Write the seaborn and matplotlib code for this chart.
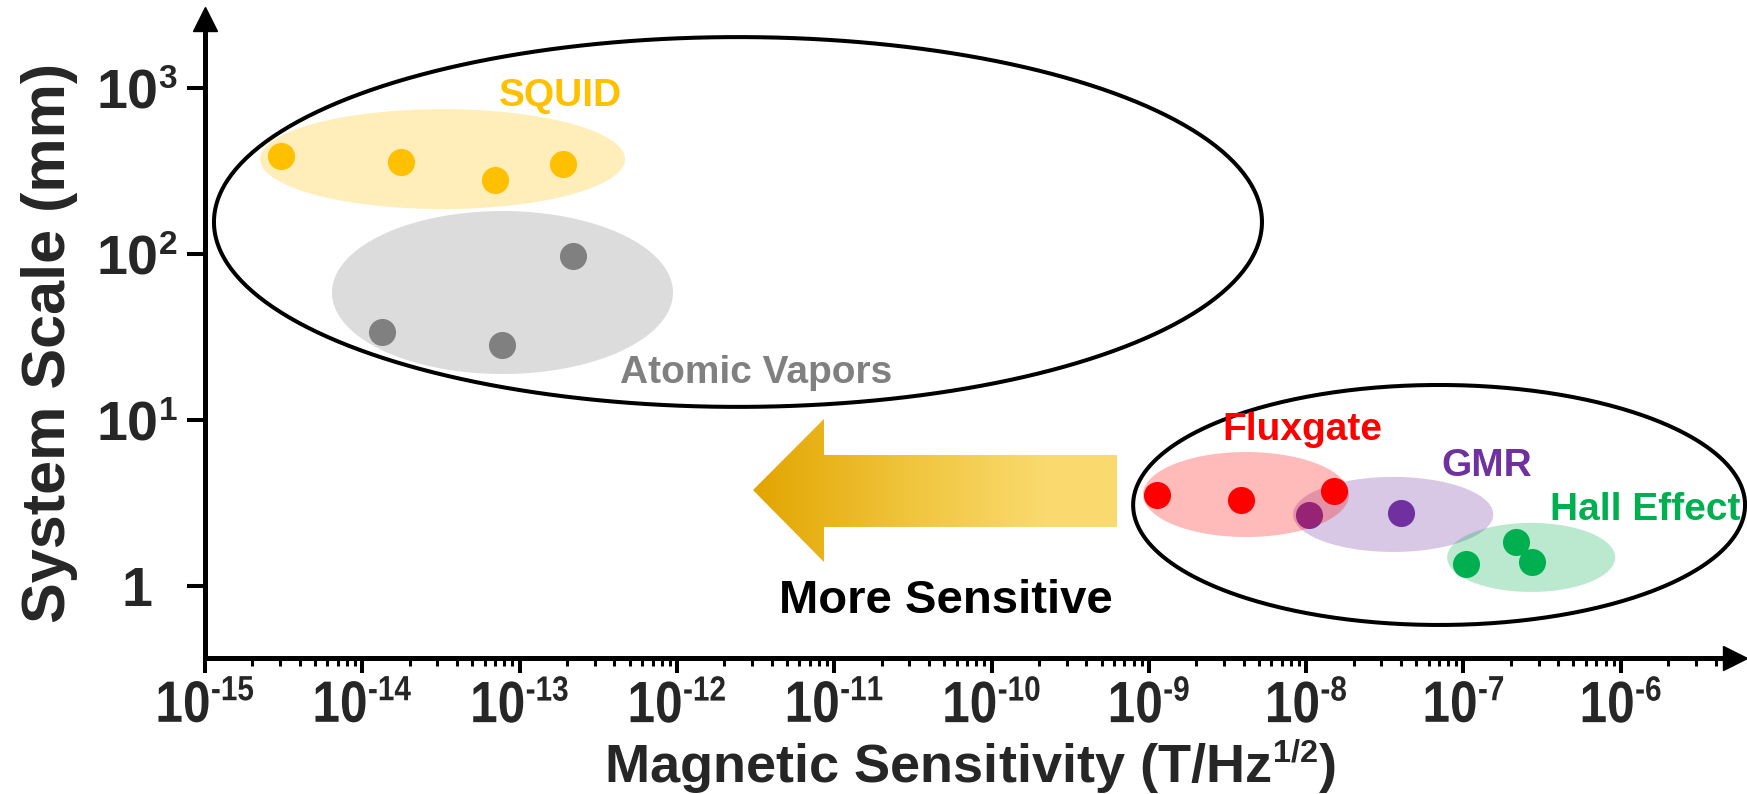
import numpy as np
import pandas as pd
import matplotlib
matplotlib.use("Agg")
import matplotlib.pyplot as plt
from matplotlib import font_manager, ticker
from matplotlib.colors import LinearSegmentedColormap
from matplotlib.patches import Polygon
from matplotlib.patheffects import AbstractPathEffect
from matplotlib.transforms import Affine2D
import seaborn as sns

try:  # smaller superscripts, as in the reference
    import matplotlib._mathtext as _mt
    _mt.SHRINK_FACTOR = 0.6
except Exception:
    pass

# ---------------- data ----------------
squid_x = [3.05e-15, 1.75e-14, 7.0e-14, 1.9e-13]
squid_y = [389, 357, 278, 350]
atomic_x = [1.33e-14, 7.7e-14, 2.17e-13]
atomic_y = [34, 28.2, 97]
flux_x = [1.13e-9, 3.86e-9, 1.51e-8]
flux_y = [3.52, 3.31, 3.73]
gmr_x = [1.04e-8, 4.01e-8]
gmr_y = [2.68, 2.74]
hall_x = [1.03e-7, 2.16e-7, 2.74e-7]
hall_y = [1.36, 1.85, 1.39]

groups = ["SQUID", "Atomic Vapors", "GMR", "Hall Effect", "Fluxgate"]
group_x = {"SQUID": squid_x, "Atomic Vapors": atomic_x, "Fluxgate": flux_x,
           "GMR": gmr_x, "Hall Effect": hall_x}
group_y = {"SQUID": squid_y, "Atomic Vapors": atomic_y, "Fluxgate": flux_y,
           "GMR": gmr_y, "Hall Effect": hall_y}

x_tick_exponents = list(range(-15, -5))
y_tick_values = [1, 10, 100, 1000]
y_tick_labels = [r"$\mathbf{1}$", r"$\mathbf{10^{1}}$", r"$\mathbf{10^{2}}$", r"$\mathbf{10^{3}}$"]

# ---------------- styles / layout ----------------
colors = {"SQUID": "#FFC000", "Atomic Vapors": "#808080", "Fluxgate": "#FF0000",
          "GMR": "#7030A0", "Hall Effect": "#00B050"}
# region ellipses in log10 units: (center x, center y, half width, half height)
regions = {"SQUID": (-13.490, 2.572, 1.160, 0.301),
           "Atomic Vapors": (-13.109, 1.768, 1.084, 0.491),
           "Fluxgate": (-8.382, 0.551, 0.655, 0.256),
           "GMR": (-7.447, 0.431, 0.636, 0.226),
           "Hall Effect": (-6.570, 0.172, 0.534, 0.208)}
outlines = [(-11.612, 2.193, 3.331, 1.114), (-7.155, 0.488, 1.945, 0.723)]
label_pos = {"SQUID": (-12.743, 2.892), "Atomic Vapors": (-11.497, 1.223),
             "Fluxgate": (-8.026, 0.880), "GMR": (-6.850, 0.663),
             "Hall Effect": (-5.845, 0.398)}


class Condense(AbstractPathEffect):
    """Narrow a text path horizontally around its own centre."""
    def __init__(self, sx):
        super().__init__()
        self.sx = sx

    def draw_path(self, renderer, gc, tpath, affine, rgbFace=None):
        ext = tpath.get_extents()
        cx = 0.5 * (ext.x0 + ext.x1)
        t = Affine2D().translate(-cx, 0).scale(self.sx, 1).translate(cx, 0) + affine
        renderer.draw_path(gc, tpath, t, rgbFace)


sns.set_theme(style="ticks")
plt.rcParams["font.family"] = ["Liberation Sans", "DejaVu Sans"]
plt.rcParams["font.weight"] = "bold"
plt.rcParams["mathtext.fontset"] = "custom"
plt.rcParams["mathtext.rm"] = "Liberation Sans:bold"
plt.rcParams["mathtext.bf"] = "Liberation Sans:bold"
plt.rcParams["mathtext.it"] = "Liberation Sans:bold"

W, H = 1747, 794
fig = plt.figure(figsize=(W / 100, H / 100), dpi=100)
ax = fig.add_axes([205 / W, 1 - 658 / H, (1735 - 205) / W, (658 - 19) / H])

df = pd.concat([pd.DataFrame({"sens": group_x[g], "scale": group_y[g], "group": g})
                for g in groups], ignore_index=True)


def ellipse(cx, cy, a, b, n=400):
    t = np.linspace(0, 2 * np.pi, n)
    return 10 ** (cx + a * np.cos(t)), 10 ** (cy + b * np.sin(t))


z = 2
for g in groups:
    ex, ey = ellipse(*regions[g])
    ax.fill(ex, ey, color=colors[g], alpha=0.27, lw=0, zorder=z)
    if g == "Atomic Vapors":
        for o in outlines:
            ox, oy = ellipse(*o)
            ax.plot(ox, oy, color="black", lw=2.9, zorder=z + 0.5, clip_on=False)
    sns.scatterplot(data=df[df["group"] == g], x="sens", y="scale", color=colors[g],
                    s=380, linewidth=0, ax=ax, zorder=z + 1, legend=False)
    lx, ly = label_pos[g]
    ax.text(10 ** lx, 10 ** ly, g, color=colors[g], fontsize=28, fontweight="bold",
            ha="center", va="baseline", zorder=10)
    z += 2

ax.text(10 ** -10.289, 10 ** -0.163, "More Sensitive", color="black", fontsize=34,
        fontweight="bold", ha="center", va="baseline")

ax.set_xscale("log")
ax.set_yscale("log")

ax.xaxis.set_major_locator(ticker.FixedLocator([10.0 ** e for e in x_tick_exponents]))
ax.xaxis.set_major_formatter(ticker.FixedFormatter(
    [r"$\mathrm{10^{\text{-}%d}}$" % (-e) for e in x_tick_exponents]))
ax.xaxis.set_minor_locator(ticker.LogLocator(base=10, subs=np.arange(2, 10), numticks=100))
ax.xaxis.set_minor_formatter(ticker.NullFormatter())
ax.set_yticks(y_tick_values)
ax.set_yticklabels(y_tick_labels)
ax.yaxis.set_minor_locator(ticker.NullLocator())
for lab in ax.get_yticklabels():
    lab.set_ha("center")

ax.tick_params(axis="x", which="major", length=11, width=2.9, pad=5, labelsize=42, color="black")
ax.tick_params(axis="x", which="minor", length=5.5, width=2.2, color="black")
ax.tick_params(axis="y", which="major", length=13, width=2.9, pad=36, labelsize=40, color="black")
for lab in ax.get_xticklabels():
    lab.set_path_effects([Condense(0.85)])

for s in ["top", "right"]:
    ax.spines[s].set_visible(False)
for s in ["left", "bottom"]:
    ax.spines[s].set_linewidth(3.6)
    ax.spines[s].set_color("black")
ax.plot(1, 0, ">", color="black", ms=17, transform=ax.transAxes, clip_on=False, zorder=20)
ax.plot(0, 1, "^", color="black", ms=17, transform=ax.transAxes, clip_on=False, zorder=20)
ax.set_xlim(10 ** -15, 10 ** -5.274)
ax.set_ylim(10 ** -0.434, 10 ** 3.416)

ax.set_xlabel(r"Magnetic Sensitivity (T/Hz$^{\mathbf{1/2}}$)", fontsize=39, fontweight="bold")
ax.xaxis.label.set_va("baseline")
ax.xaxis.set_label_coords(0.5, -0.194)
ax.set_ylabel("System Scale (mm)", fontsize=44, fontweight="bold")
ax.yaxis.label.set_va("center")
ax.yaxis.set_label_coords(-0.1017, 0.493)

# gradient arrow ("More Sensitive")
aax = fig.add_axes([753 / W, 1 - 562 / H, 364 / W, 143 / H])
aax.set_xlim(0, 1)
aax.set_ylim(0, 1)
aax.axis("off")
verts = [(0, 0.503), (0.195, 1), (0.195, 0.748), (1, 0.748), (1, 0.245),
         (0.195, 0.245), (0.195, 0), (0, 0.503)]
poly = Polygon(verts, closed=True, facecolor="none", edgecolor="none")
aax.add_patch(poly)
cmap = LinearSegmentedColormap.from_list(
    "gold", [(0, "#E2A500"), (0.45, "#F1C63F"), (0.8, "#FADA6E"), (1, "#FADA6E")])
grad = np.linspace(0, 1, 256).reshape(1, -1)
im = aax.imshow(grad, cmap=cmap, extent=[0, 1, 0, 1], aspect="auto", interpolation="bilinear")
im.set_clip_path(poly)

fig.savefig("out.png", dpi=100)
